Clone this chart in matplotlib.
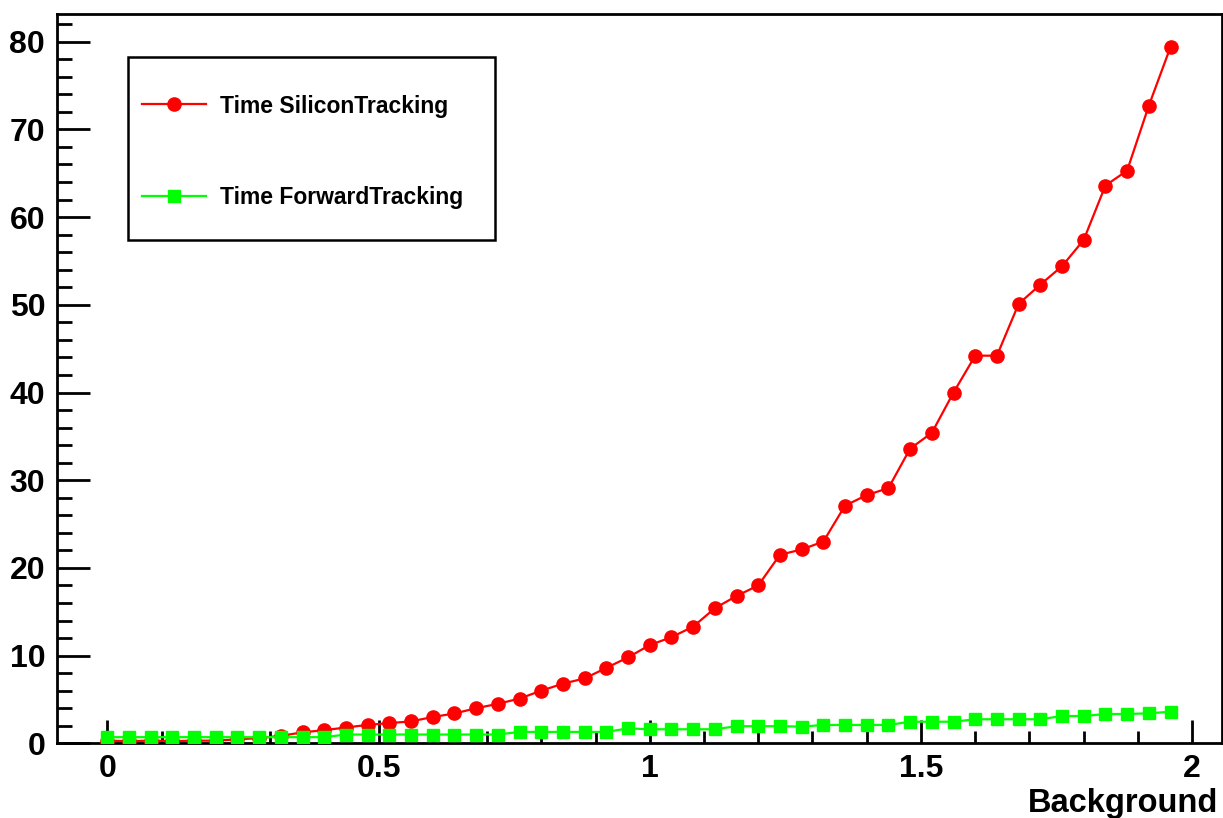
import matplotlib
matplotlib.use("Agg")
import matplotlib.pyplot as plt
from matplotlib.patches import Rectangle
from matplotlib.ticker import MultipleLocator

# Background level scanned in steps of 0.04
background = [0.00, 0.04, 0.08, 0.12, 0.16, 0.20, 0.24, 0.28, 0.32, 0.36,
              0.40, 0.44, 0.48, 0.52, 0.56, 0.60, 0.64, 0.68, 0.72, 0.76,
              0.80, 0.84, 0.88, 0.92, 0.96, 1.00, 1.04, 1.08, 1.12, 1.16,
              1.20, 1.24, 1.28, 1.32, 1.36, 1.40, 1.44, 1.48, 1.52, 1.56,
              1.60, 1.64, 1.68, 1.72, 1.76, 1.80, 1.84, 1.88, 1.92, 1.96]

# Processing time of the silicon tracking
time_silicon = [0.30, 0.25, 0.30, 0.25, 0.30, 0.30, 0.45, 0.60, 0.85, 1.25,
                1.5, 1.8, 2.1, 2.3, 2.5, 3.0, 3.4, 4.0, 4.5, 5.1,
                6.0, 6.8, 7.4, 8.6, 9.8, 11.2, 12.1, 13.3, 15.4, 16.8,
                18.0, 21.5, 22.1, 23.0, 27.1, 28.3, 29.1, 33.6, 35.4, 40.0,
                44.2, 44.2, 50.1, 52.3, 54.4, 57.4, 63.6, 65.3, 72.7, 79.4]

# Processing time of the forward tracking
time_forward = [0.70, 0.70, 0.70, 0.70, 0.70, 0.70, 0.70, 0.70, 0.70, 0.70,
                0.70, 1.00, 1.00, 1.00, 1.00, 1.00, 1.00, 1.00, 1.00, 1.30,
                1.30, 1.30, 1.30, 1.30, 1.70, 1.60, 1.60, 1.60, 1.60, 1.95,
                1.95, 1.95, 1.90, 2.09, 2.09, 2.09, 2.09, 2.46, 2.46, 2.46,
                2.74, 2.74, 2.74, 2.74, 3.11, 3.11, 3.34, 3.34, 3.42, 3.60]

labels = ["Time SiliconTracking", "Time ForwardTracking"]
x_title = "Background"

FONT = "Liberation Sans"
W, H = 1223, 818

fig = plt.figure(figsize=(W / 100, H / 100), dpi=100)
fig.patch.set_facecolor("white")

ax_l, ax_r, ax_t, ax_b = 57, 1221.5, 14, 743.3
ax = fig.add_axes([ax_l / W, 1 - ax_b / H, (ax_r - ax_l) / W, (ax_b - ax_t) / H])

ax.plot(background, time_silicon, color="#ff0000", lw=1.6, marker="o",
        ms=9.5, mec="#ff0000", mfc="#ff0000", label=labels[0], zorder=3)
ax.plot(background, time_forward, color="#00ff00", lw=1.6, marker="s",
        ms=9, mec="#00ff00", mfc="#00ff00", label=labels[1], zorder=4)

ax.set_xlim(-0.0927, 2.054)
ax.set_ylim(0, 83.16)

for side in ["left", "right", "top", "bottom"]:
    ax.spines[side].set_linewidth(2)
    ax.spines[side].set_color("black")

ax.xaxis.set_major_locator(MultipleLocator(0.5))
ax.xaxis.set_minor_locator(MultipleLocator(0.1))
ax.yaxis.set_major_locator(MultipleLocator(10))
ax.yaxis.set_minor_locator(MultipleLocator(2))
ax.xaxis.set_major_formatter(plt.FuncFormatter(lambda v, p: f"{v:g}"))

ax.tick_params(axis="both", which="both", direction="in", color="black",
               width=2, top=False, right=False)
ax.tick_params(axis="y", which="major", length=23.8, pad=8.5)
ax.tick_params(axis="y", which="minor", length=10.8)
ax.tick_params(axis="x", which="major", length=16.6, pad=8)
ax.tick_params(axis="x", which="minor", length=8.6)

for lab in ax.get_xticklabels() + ax.get_yticklabels():
    lab.set_fontfamily(FONT)
    lab.set_fontweight("bold")
    lab.set_fontsize(23)

ax.set_xlabel(x_title, fontfamily=FONT, fontweight="bold", fontsize=23.5,
              ha="right", va="baseline")
ax.xaxis.set_label_coords((1218 - ax_l) / (ax_r - ax_l),
                          -(812 - ax_b) / (ax_b - ax_t))

# Legend box drawn behind the legend entries
box = Rectangle((128 / W, 1 - 240 / H), (495 - 128) / W, (240 - 57) / H,
                transform=fig.transFigure, facecolor="white",
                edgecolor="black", lw=1.8, zorder=5, clip_on=False)
ax.add_patch(box)

leg = ax.legend(loc="upper left", bbox_to_anchor=(142 / W, 1 - 94.5 / H),
                bbox_transform=fig.transFigure, frameon=False,
                prop={"family": FONT, "weight": "bold", "size": 16.5},
                handlelength=2.8, handletextpad=0.62, labelspacing=3.0,
                borderpad=0, borderaxespad=0)
leg.set_zorder(6)

fig.savefig("out.png", dpi=100, facecolor="white")
